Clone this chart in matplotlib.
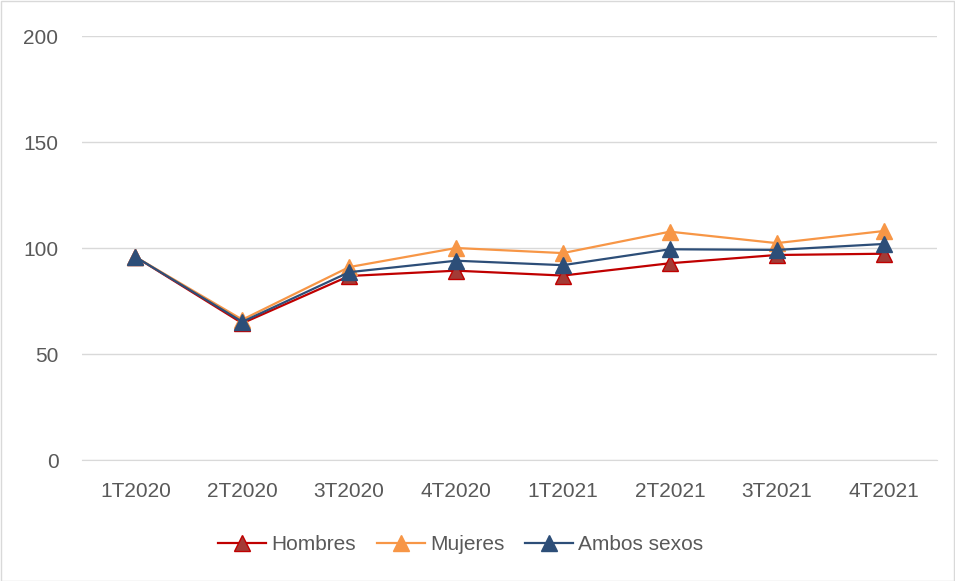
import matplotlib
matplotlib.use("Agg")
import matplotlib.pyplot as plt
from matplotlib.patches import Rectangle

categories = ["1T2020", "2T2020", "3T2020", "4T2020", "1T2021", "2T2021", "3T2021", "4T2021"]
hombres = [95.8, 64.5, 86.8, 89.3, 87.0, 92.8, 96.7, 97.3]
mujeres = [95.8, 66.2, 91.0, 100.0, 97.6, 107.7, 102.3, 108.0]
ambos = [95.8, 65.2, 88.6, 94.0, 91.9, 99.4, 99.1, 101.9]
yticks = [0, 50, 100, 150, 200]

plt.rcParams['font.family'] = ['Liberation Sans', 'DejaVu Sans']
W, H = 955, 581
fig = plt.figure(figsize=(W/100, H/100), dpi=100)
ax = fig.add_axes([82/W, 1-460/H, (937-82)/W, (460-36)/H])

x = list(range(len(categories)))
series = [
    ("Hombres", hombres, "#C00000", "#A33B36", "#C00000"),
    ("Mujeres", mujeres, "#F79646", "#F79646", "#F79646"),
    ("Ambos sexos", ambos, "#2D4E78", "#2D4E78", "#2D4E78"),
]
for name, vals, lc, fc, ec in series:
    ax.plot(x, vals, color=lc, lw=1.6, marker='^', markersize=11,
            markerfacecolor=fc, markeredgecolor=ec, markeredgewidth=1.0, label=name)

ax.set_xlim(-0.5, 7.5)
ax.set_ylim(0, 200)
ax.set_yticks(yticks)
ax.set_xticks(x)
ax.set_xticklabels(categories)
ax.grid(axis='y', color='#D9D9D9', lw=1.0)
ax.set_axisbelow(True)
for s in ['top', 'right', 'left']:
    ax.spines[s].set_visible(False)
ax.spines['bottom'].set_color('#D9D9D9')
ax.tick_params(axis='both', length=0, labelsize=15, colors='#595959')
ax.tick_params(axis='y', pad=17)
ax.tick_params(axis='x', pad=16)

leg = fig.legend(loc='center', bbox_to_anchor=(461/W, 1-545/H), ncol=3, frameon=False,
                 fontsize=15, handlelength=2.3, columnspacing=1.0, handletextpad=0.25)
for t in leg.get_texts():
    t.set_color('#595959')

fig.add_artist(Rectangle((0.5/W, 0.5/H), 1-1.5/W, 1-1.5/H, transform=fig.transFigure,
                         fill=False, edgecolor='#D9D9D9', lw=1))
fig.savefig("out.png", dpi=100)
